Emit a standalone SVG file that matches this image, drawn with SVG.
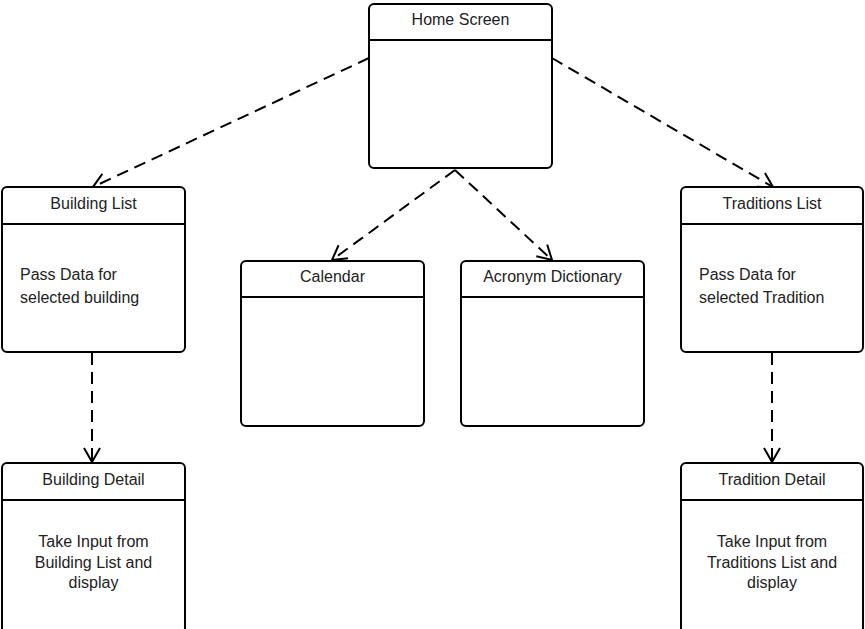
<svg xmlns="http://www.w3.org/2000/svg" width="865" height="629" viewBox="0 0 865 629">
<style>
.box{fill:#fff;stroke:#000;stroke-width:2}
.div{stroke:#000;stroke-width:2}
.t{font-family:"Liberation Sans",Arial,sans-serif;font-size:16px;fill:#222}
.c{text-anchor:middle}
.con{fill:none;stroke:#000;stroke-width:2;stroke-dasharray:12 7}
</style>
<defs>
<marker id="arr" markerWidth="18" markerHeight="20" refX="16" refY="10" orient="auto" markerUnits="userSpaceOnUse">
<path d="M2,2 L16,10 L2,18" fill="none" stroke="#000" stroke-width="2"/>
</marker>
</defs>
<g id="connectors">
<path class="con" d="M369,58 L93,187" marker-end="url(#arr)"/>
<path class="con" d="M552,58 L773,187" marker-end="url(#arr)"/>
<path class="con" d="M455,170 L332,260" marker-end="url(#arr)"/>
<path class="con" d="M455,170 L552,260" marker-end="url(#arr)"/>
<path class="con" d="M92,353 L92,462" marker-end="url(#arr)"/>
<path class="con" d="M772,353 L772,462" marker-end="url(#arr)"/>
</g>
<g id="home">
<rect class="box" x="369" y="4" width="183" height="164" rx="5"/>
<line class="div" x1="369" y1="40" x2="552" y2="40"/>
<text class="t c" x="460.5" y="25">Home Screen</text>
</g>
<g id="building-list">
<rect class="box" x="2" y="187" width="183" height="165" rx="5"/>
<line class="div" x1="2" y1="224" x2="185" y2="224"/>
<text class="t c" x="93.5" y="209">Building List</text>
<text class="t" x="20" y="280">Pass Data for</text>
<text class="t" x="20" y="303">selected building</text>
</g>
<g id="calendar">
<rect class="box" x="241" y="261" width="183" height="165" rx="5"/>
<line class="div" x1="241" y1="297" x2="424" y2="297"/>
<text class="t c" x="332.5" y="282">Calendar</text>
</g>
<g id="acronym">
<rect class="box" x="461" y="261" width="183" height="165" rx="5"/>
<line class="div" x1="461" y1="297" x2="644" y2="297"/>
<text class="t c" x="552.5" y="282">Acronym Dictionary</text>
</g>
<g id="traditions-list">
<rect class="box" x="681" y="187" width="182" height="165" rx="5"/>
<line class="div" x1="681" y1="224" x2="863" y2="224"/>
<text class="t c" x="772" y="209">Traditions List</text>
<text class="t" x="699" y="280">Pass Data for</text>
<text class="t" x="699" y="303">selected Tradition</text>
</g>
<g id="building-detail">
<rect class="box" x="2" y="463" width="183" height="170" rx="5"/>
<line class="div" x1="2" y1="500" x2="185" y2="500"/>
<text class="t c" x="93.5" y="485">Building Detail</text>
<text class="t c" x="93.5" y="547">Take Input from</text>
<text class="t c" x="93.5" y="568">Building List and</text>
<text class="t c" x="93.5" y="588">display</text>
</g>
<g id="tradition-detail">
<rect class="box" x="681" y="463" width="182" height="170" rx="5"/>
<line class="div" x1="681" y1="500" x2="863" y2="500"/>
<text class="t c" x="772" y="485">Tradition Detail</text>
<text class="t c" x="772" y="547">Take Input from</text>
<text class="t c" x="772" y="568">Traditions List and</text>
<text class="t c" x="772" y="588">display</text>
</g>
</svg>
